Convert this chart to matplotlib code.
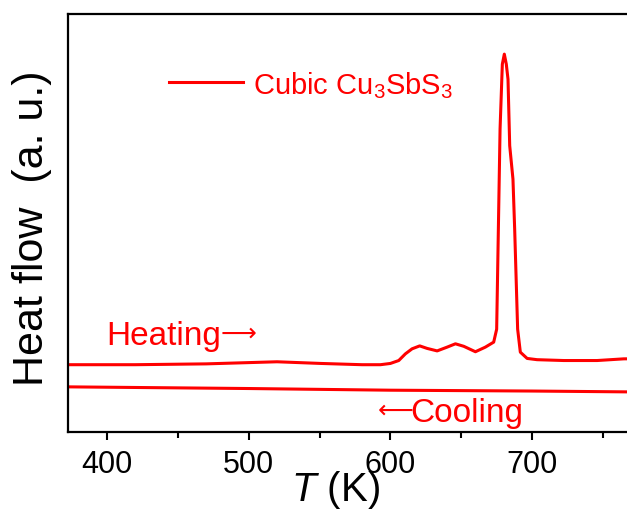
import matplotlib
matplotlib.use('Agg')
import matplotlib.pyplot as plt
from matplotlib.ticker import FixedLocator

plt.rcParams['font.family'] = ['Liberation Sans', 'DejaVu Sans']
plt.rcParams['mathtext.fontset'] = 'custom'
plt.rcParams['mathtext.rm'] = 'Liberation Sans'
plt.rcParams['mathtext.it'] = 'Liberation Sans:italic'

# DSC traces, heat flow in arbitrary units
T_heat = [372.5, 420, 470, 520, 551, 580, 593, 600, 605.9, 610.6, 615.3, 620.7,
          625.9, 633, 640, 645.9, 651.8, 660, 667, 672.9, 675, 676.2, 677.4, 679,
          680.4, 681.8, 683, 684.2, 686.5, 687.7, 689.8, 691.7, 696.5, 703.5,
          722.3, 745.9, 764.7, 800]
q_heat = [16.1, 16.1, 16.3, 16.8, 16.4, 16.1, 16.1, 16.4, 17.1, 18.7, 19.9, 20.6,
          20.0, 19.4, 20.3, 21.1, 20.5, 19.2, 20.3, 21.5, 24.6, 48.6, 72.5, 88.0,
          90.4, 88.0, 84.4, 68.5, 60.5, 48.6, 24.6, 19.1, 17.6, 17.3,
          17.1, 17.1, 17.5, 17.6]

T_cool = [372.5, 500, 600, 700, 800]
q_cool = [10.8, 10.4, 10.0, 9.8, 9.5]

red = '#ff0000'

fig = plt.figure(figsize=(6.27, 5.10), dpi=100)
ax = fig.add_axes([68/627, 77/510, 605.8/627, 418/510])

ax.plot(T_heat, q_heat, color=red, lw=2.2)
ax.plot(T_cool, q_cool, color=red, lw=2.2)

ax.set_xlim(372.5, 800)
ax.set_ylim(0, 100)
ax.xaxis.set_major_locator(FixedLocator([400, 500, 600, 700]))
ax.xaxis.set_minor_locator(FixedLocator([450, 550, 650, 750]))
ax.set_yticks([])
ax.tick_params(axis='x', which='major', direction='out', length=6, width=1.5,
               labelsize=22, pad=6)
ax.tick_params(axis='x', which='minor', direction='out', length=4, width=1.5)
for s in ax.spines.values():
    s.set_linewidth(1.6)

# legend-like sample line and label
ax.plot([443.8, 496], [83.7, 83.7], color=red, lw=2.2)
ax.text(503, 81.0, 'Cubic Cu$_3$SbS$_3$', color=red, fontsize=21, va='baseline')

# direction labels; thin long arrows from DejaVu
ax.text(399.3, 21.0, 'Heating', color=red, fontsize=24, va='baseline')
ax.text(480.5, 22.0, '\u27f6', color=red, fontsize=18, va='baseline',
        family='DejaVu Sans')
ax.text(590.8, 3.6, '\u27f5', color=red, fontsize=18, va='baseline',
        family='DejaVu Sans')
ax.text(613.9, 2.6, 'Cooling', color=red, fontsize=24, va='baseline')

fig.text(32/627, (510-228)/510, 'Heat flow  (a. u.)', rotation=90,
         ha='center', va='center', fontsize=31)
fig.text(335/627, (510-501)/510, '$T$ (K)', ha='center', va='baseline', fontsize=29)

fig.savefig('out.png', dpi=100)
